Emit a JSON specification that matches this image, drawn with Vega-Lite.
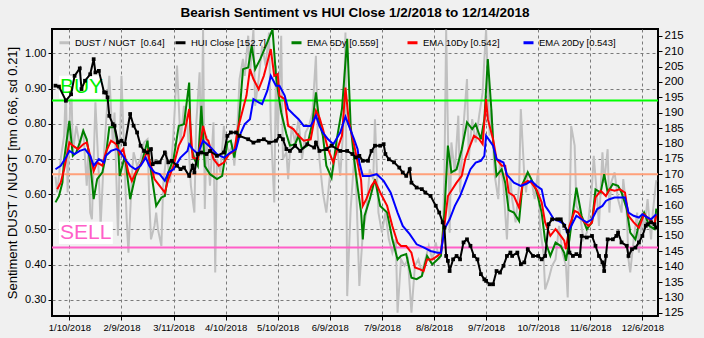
{
"$schema":"https://vega.github.io/schema/vega-lite/v6.json",
"width":606,"height":287,
"autosize":{"type":"none"},
"padding":{"left":52,"top":29,"right":46,"bottom":22},
"background":"#f0f0f0",
"config":{
 "font":"Liberation Sans",
 "view":{"stroke":"#000000","strokeWidth":2,"fill":"#f0f0f0"},
 "axis":{"labelFont":"Liberation Sans","labelColor":"#000000","tickColor":"#000000","domain":false,"gridColor":"#7a7a7a","gridDash":[3,3],"gridOpacity":1,"gridWidth":1,"tickSize":4,"titleFont":"Liberation Sans","titleColor":"#000000"}
},
"title":{"text":"Bearish Sentiment vs HUI Close 1/2/2018 to 12/14/2018","fontSize":13.5,"fontWeight":"bold","font":"Liberation Sans","color":"#000000","offset":10,"anchor":"middle"},
"datasets":{
"ratio":[
{"d":"2018-01-02","v":0.65},{"d":"2018-01-03","v":0.605},{"d":"2018-01-05","v":0.70},{"d":"2018-01-07","v":0.766},{"d":"2018-01-08","v":0.908},{"d":"2018-01-09","v":0.605},{"d":"2018-01-11","v":0.941},{"d":"2018-01-12","v":0.719},{"d":"2018-01-14","v":0.794},{"d":"2018-01-16","v":0.738},{"d":"2018-01-18","v":0.785},{"d":"2018-01-20","v":0.624},{"d":"2018-01-21","v":0.728},{"d":"2018-01-22","v":0.548},{"d":"2018-01-23","v":0.529},{"d":"2018-01-25","v":0.861},{"d":"2018-01-27","v":0.652},{"d":"2018-01-28","v":0.51},{"d":"2018-01-30","v":0.719},{"d":"2018-01-31","v":0.794},
{"d":"2018-02-02","v":0.936},{"d":"2018-02-04","v":0.747},{"d":"2018-02-05","v":0.832},{"d":"2018-02-07","v":0.482},{"d":"2018-02-09","v":0.936},{"d":"2018-02-10","v":0.794},{"d":"2018-02-12","v":0.529},{"d":"2018-02-13","v":0.434},{"d":"2018-02-15","v":0.652},{"d":"2018-02-16","v":0.719},{"d":"2018-02-18","v":0.681},{"d":"2018-02-20","v":0.70},{"d":"2018-02-22","v":0.747},{"d":"2018-02-24","v":0.756},{"d":"2018-02-25","v":0.586},{"d":"2018-02-26","v":0.472},{"d":"2018-02-28","v":0.51},
{"d":"2018-03-01","v":0.548},{"d":"2018-03-02","v":0.501},{"d":"2018-03-04","v":0.453},{"d":"2018-03-05","v":0.624},{"d":"2018-03-07","v":0.719},{"d":"2018-03-09","v":0.633},{"d":"2018-03-11","v":0.775},{"d":"2018-03-13","v":0.965},{"d":"2018-03-15","v":0.747},{"d":"2018-03-17","v":0.851},{"d":"2018-03-19","v":0.794},{"d":"2018-03-20","v":0.709},{"d":"2018-03-21","v":0.624},{"d":"2018-03-23","v":0.548},{"d":"2018-03-24","v":0.794},{"d":"2018-03-26","v":0.946},{"d":"2018-03-27","v":0.709},{"d":"2018-03-28","v":1.068},{"d":"2018-03-29","v":0.558},{"d":"2018-03-30","v":0.766},
{"d":"2018-04-01","v":0.624},{"d":"2018-04-03","v":0.804},{"d":"2018-04-04","v":0.378},{"d":"2018-04-05","v":0.70},{"d":"2018-04-07","v":0.662},{"d":"2018-04-09","v":0.794},{"d":"2018-04-10","v":0.747},{"d":"2018-04-12","v":0.719},{"d":"2018-04-14","v":0.738},{"d":"2018-04-15","v":0.681},{"d":"2018-04-17","v":0.813},{"d":"2018-04-18","v":0.927},{"d":"2018-04-20","v":0.984},{"d":"2018-04-21","v":0.936},{"d":"2018-04-23","v":1.05},{"d":"2018-04-24","v":0.936},{"d":"2018-04-26","v":1.068},{"d":"2018-04-27","v":0.851},{"d":"2018-04-29","v":0.927},
{"d":"2018-05-01","v":1.022},{"d":"2018-05-03","v":0.965},{"d":"2018-05-05","v":1.059},{"d":"2018-05-06","v":0.794},{"d":"2018-05-08","v":0.577},{"d":"2018-05-09","v":0.965},{"d":"2018-05-10","v":0.766},{"d":"2018-05-12","v":1.05},{"d":"2018-05-13","v":0.70},{"d":"2018-05-15","v":0.719},{"d":"2018-05-16","v":0.643},{"d":"2018-05-18","v":0.794},{"d":"2018-05-20","v":0.747},{"d":"2018-05-22","v":0.813},{"d":"2018-05-24","v":0.70},{"d":"2018-05-26","v":0.775},{"d":"2018-05-28","v":0.794},{"d":"2018-05-30","v":0.832},
{"d":"2018-06-01","v":0.993},{"d":"2018-06-02","v":0.775},{"d":"2018-06-03","v":0.70},{"d":"2018-06-05","v":0.605},{"d":"2018-06-07","v":0.548},{"d":"2018-06-09","v":0.652},{"d":"2018-06-11","v":0.671},{"d":"2018-06-13","v":0.747},{"d":"2018-06-15","v":0.652},{"d":"2018-06-17","v":0.804},{"d":"2018-06-18","v":1.059},{"d":"2018-06-19","v":0.311},{"d":"2018-06-21","v":0.558},{"d":"2018-06-23","v":0.70},{"d":"2018-06-24","v":0.652},{"d":"2018-06-26","v":0.34},{"d":"2018-06-28","v":0.491},{"d":"2018-06-30","v":0.548},
{"d":"2018-07-02","v":0.671},{"d":"2018-07-04","v":0.643},{"d":"2018-07-05","v":0.813},{"d":"2018-07-07","v":0.548},{"d":"2018-07-09","v":0.491},{"d":"2018-07-11","v":0.548},{"d":"2018-07-13","v":0.472},{"d":"2018-07-15","v":0.434},{"d":"2018-07-17","v":0.472},{"d":"2018-07-18","v":0.264},{"d":"2018-07-20","v":0.415},{"d":"2018-07-22","v":0.397},{"d":"2018-07-24","v":0.415},{"d":"2018-07-26","v":0.264},{"d":"2018-07-28","v":0.397},{"d":"2018-07-30","v":0.415},
{"d":"2018-08-01","v":0.378},{"d":"2018-08-03","v":0.415},{"d":"2018-08-05","v":0.453},{"d":"2018-08-07","v":0.415},{"d":"2018-08-09","v":0.463},{"d":"2018-08-11","v":0.415},{"d":"2018-08-13","v":0.472},{"d":"2018-08-14","v":0.652},{"d":"2018-08-15","v":1.068},{"d":"2018-08-17","v":0.491},{"d":"2018-08-18","v":0.747},{"d":"2018-08-20","v":0.662},{"d":"2018-08-22","v":0.823},{"d":"2018-08-23","v":0.605},{"d":"2018-08-25","v":0.794},{"d":"2018-08-27","v":0.927},{"d":"2018-08-28","v":0.70},{"d":"2018-08-30","v":0.813},
{"d":"2018-09-01","v":0.747},{"d":"2018-09-03","v":0.823},{"d":"2018-09-05","v":0.889},{"d":"2018-09-06","v":0.984},{"d":"2018-09-07","v":1.068},{"d":"2018-09-09","v":0.766},{"d":"2018-09-10","v":0.842},{"d":"2018-09-12","v":0.652},{"d":"2018-09-14","v":0.586},{"d":"2018-09-15","v":0.70},{"d":"2018-09-17","v":0.624},{"d":"2018-09-19","v":0.472},{"d":"2018-09-20","v":0.586},{"d":"2018-09-21","v":0.643},{"d":"2018-09-22","v":0.586},{"d":"2018-09-24","v":0.52},{"d":"2018-09-26","v":0.624},{"d":"2018-09-27","v":0.842},{"d":"2018-09-29","v":0.652},{"d":"2018-09-30","v":0.605},
{"d":"2018-10-01","v":0.662},{"d":"2018-10-03","v":0.643},{"d":"2018-10-05","v":0.586},{"d":"2018-10-07","v":0.671},{"d":"2018-10-08","v":0.51},{"d":"2018-10-10","v":0.434},{"d":"2018-10-11","v":0.33},{"d":"2018-10-13","v":0.359},{"d":"2018-10-15","v":0.397},{"d":"2018-10-17","v":0.415},{"d":"2018-10-19","v":0.51},{"d":"2018-10-21","v":0.434},{"d":"2018-10-23","v":0.397},{"d":"2018-10-24","v":0.307},{"d":"2018-10-25","v":0.51},{"d":"2018-10-26","v":0.794},{"d":"2018-10-28","v":0.738},{"d":"2018-10-29","v":0.567},{"d":"2018-10-31","v":0.548},
{"d":"2018-11-02","v":0.472},{"d":"2018-11-04","v":0.491},{"d":"2018-11-05","v":0.529},{"d":"2018-11-07","v":0.624},{"d":"2018-11-08","v":0.709},{"d":"2018-11-10","v":0.586},{"d":"2018-11-11","v":0.51},{"d":"2018-11-13","v":0.719},{"d":"2018-11-14","v":0.633},{"d":"2018-11-16","v":0.728},{"d":"2018-11-17","v":0.548},{"d":"2018-11-18","v":0.633},{"d":"2018-11-20","v":0.662},{"d":"2018-11-22","v":0.586},{"d":"2018-11-24","v":0.548},{"d":"2018-11-25","v":0.643},{"d":"2018-11-27","v":0.548},{"d":"2018-11-28","v":0.415},{"d":"2018-11-29","v":0.378},
{"d":"2018-12-01","v":0.472},{"d":"2018-12-03","v":0.548},{"d":"2018-12-04","v":0.434},{"d":"2018-12-06","v":0.548},{"d":"2018-12-07","v":0.491},{"d":"2018-12-09","v":0.586},{"d":"2018-12-11","v":0.472},{"d":"2018-12-12","v":0.548},{"d":"2018-12-14","v":0.64}
],
"ema5":[
{"d":"2018-01-02","v":0.577},{"d":"2018-01-04","v":0.595},{"d":"2018-01-06","v":0.633},{"d":"2018-01-07","v":0.70},{"d":"2018-01-10","v":0.808},{"d":"2018-01-12","v":0.709},{"d":"2018-01-14","v":0.719},{"d":"2018-01-16","v":0.747},{"d":"2018-01-18","v":0.78},{"d":"2018-01-20","v":0.756},{"d":"2018-01-22","v":0.69},{"d":"2018-01-24","v":0.586},{"d":"2018-01-26","v":0.643},{"d":"2018-01-29","v":0.662},{"d":"2018-01-31","v":0.709},
{"d":"2018-02-02","v":0.79},{"d":"2018-02-05","v":0.79},{"d":"2018-02-07","v":0.738},{"d":"2018-02-08","v":0.652},{"d":"2018-02-11","v":0.709},{"d":"2018-02-14","v":0.586},{"d":"2018-02-17","v":0.652},{"d":"2018-02-21","v":0.695},{"d":"2018-02-24","v":0.752},{"d":"2018-02-25","v":0.70},{"d":"2018-02-27","v":0.633},
{"d":"2018-03-01","v":0.567},{"d":"2018-03-04","v":0.591},{"d":"2018-03-06","v":0.595},{"d":"2018-03-08","v":0.662},{"d":"2018-03-11","v":0.70},{"d":"2018-03-14","v":0.794},{"d":"2018-03-17","v":0.799},{"d":"2018-03-20","v":0.917},{"d":"2018-03-21","v":0.738},{"d":"2018-03-23","v":0.70},{"d":"2018-03-25","v":0.681},{"d":"2018-03-27","v":0.851},{"d":"2018-03-29","v":0.68},
{"d":"2018-04-01","v":0.657},{"d":"2018-04-05","v":0.643},{"d":"2018-04-08","v":0.652},{"d":"2018-04-11","v":0.747},{"d":"2018-04-13","v":0.752},{"d":"2018-04-15","v":0.704},{"d":"2018-04-17","v":0.766},{"d":"2018-04-20","v":0.955},{"d":"2018-04-23","v":0.96},{"d":"2018-04-25","v":1.022},{"d":"2018-04-27","v":0.955},{"d":"2018-04-30","v":0.984},
{"d":"2018-05-04","v":1.031},{"d":"2018-05-07","v":1.068},{"d":"2018-05-09","v":0.936},{"d":"2018-05-10","v":0.898},{"d":"2018-05-12","v":0.832},{"d":"2018-05-15","v":0.771},{"d":"2018-05-17","v":0.738},{"d":"2018-05-20","v":0.742},{"d":"2018-05-22","v":0.766},{"d":"2018-05-24","v":0.728},{"d":"2018-05-27","v":0.738},{"d":"2018-05-30","v":0.804},
{"d":"2018-06-01","v":0.889},{"d":"2018-06-03","v":0.804},{"d":"2018-06-05","v":0.766},{"d":"2018-06-07","v":0.681},{"d":"2018-06-10","v":0.647},{"d":"2018-06-13","v":0.756},{"d":"2018-06-16","v":0.842},{"d":"2018-06-19","v":1.041},{"d":"2018-06-21","v":0.794},{"d":"2018-06-23","v":0.70},{"d":"2018-06-25","v":0.62},{"d":"2018-06-27","v":0.55},{"d":"2018-06-28","v":0.472},{"d":"2018-06-29","v":0.539},
{"d":"2018-07-02","v":0.586},{"d":"2018-07-05","v":0.643},{"d":"2018-07-08","v":0.567},{"d":"2018-07-12","v":0.548},{"d":"2018-07-15","v":0.472},{"d":"2018-07-18","v":0.415},{"d":"2018-07-20","v":0.425},{"d":"2018-07-23","v":0.43},{"d":"2018-07-26","v":0.363},{"d":"2018-07-29","v":0.359},
{"d":"2018-08-01","v":0.368},{"d":"2018-08-04","v":0.425},{"d":"2018-08-07","v":0.401},{"d":"2018-08-10","v":0.415},{"d":"2018-08-12","v":0.425},{"d":"2018-08-14","v":0.548},{"d":"2018-08-16","v":0.738},{"d":"2018-08-18","v":0.662},{"d":"2018-08-21","v":0.671},{"d":"2018-08-24","v":0.728},{"d":"2018-08-27","v":0.804},{"d":"2018-08-30","v":0.785},
{"d":"2018-09-01","v":0.799},{"d":"2018-09-04","v":0.756},{"d":"2018-09-06","v":0.813},{"d":"2018-09-08","v":0.984},{"d":"2018-09-10","v":0.842},{"d":"2018-09-11","v":0.756},{"d":"2018-09-13","v":0.652},{"d":"2018-09-16","v":0.671},{"d":"2018-09-18","v":0.633},{"d":"2018-09-20","v":0.555},{"d":"2018-09-23","v":0.548},{"d":"2018-09-26","v":0.524},{"d":"2018-09-28","v":0.629},
{"d":"2018-10-01","v":0.662},{"d":"2018-10-03","v":0.643},{"d":"2018-10-06","v":0.61},{"d":"2018-10-09","v":0.548},{"d":"2018-10-11","v":0.468},{"d":"2018-10-14","v":0.425},{"d":"2018-10-17","v":0.463},{"d":"2018-10-20","v":0.453},{"d":"2018-10-22","v":0.434},{"d":"2018-10-23","v":0.411},{"d":"2018-10-25","v":0.472},{"d":"2018-10-27","v":0.548},{"d":"2018-10-29","v":0.619},
{"d":"2018-11-01","v":0.539},{"d":"2018-11-04","v":0.501},{"d":"2018-11-07","v":0.52},{"d":"2018-11-09","v":0.614},{"d":"2018-11-12","v":0.605},{"d":"2018-11-14","v":0.657},{"d":"2018-11-16","v":0.605},{"d":"2018-11-19","v":0.629},{"d":"2018-11-22","v":0.624},{"d":"2018-11-24","v":0.605},{"d":"2018-11-27","v":0.558},{"d":"2018-11-29","v":0.491},
{"d":"2018-12-02","v":0.472},{"d":"2018-12-04","v":0.515},{"d":"2018-12-07","v":0.548},{"d":"2018-12-10","v":0.51},{"d":"2018-12-13","v":0.501},{"d":"2018-12-14","v":0.559}
],
"ema10":[
{"d":"2018-01-03","v":0.614},{"d":"2018-01-05","v":0.633},{"d":"2018-01-07","v":0.671},{"d":"2018-01-10","v":0.747},{"d":"2018-01-12","v":0.738},{"d":"2018-01-15","v":0.728},{"d":"2018-01-18","v":0.742},{"d":"2018-01-20","v":0.747},{"d":"2018-01-22","v":0.709},{"d":"2018-01-24","v":0.666},{"d":"2018-01-26","v":0.69},{"d":"2018-01-29","v":0.681},{"d":"2018-01-31","v":0.719},
{"d":"2018-02-03","v":0.752},{"d":"2018-02-06","v":0.742},{"d":"2018-02-08","v":0.714},{"d":"2018-02-10","v":0.728},{"d":"2018-02-13","v":0.662},{"d":"2018-02-15","v":0.638},{"d":"2018-02-18","v":0.671},{"d":"2018-02-21","v":0.69},{"d":"2018-02-24","v":0.723},{"d":"2018-02-25","v":0.70},{"d":"2018-02-28","v":0.643},
{"d":"2018-03-03","v":0.624},{"d":"2018-03-06","v":0.605},{"d":"2018-03-08","v":0.643},{"d":"2018-03-11","v":0.681},{"d":"2018-03-14","v":0.738},{"d":"2018-03-17","v":0.766},{"d":"2018-03-20","v":0.842},{"d":"2018-03-22","v":0.704},{"d":"2018-03-25","v":0.70},{"d":"2018-03-28","v":0.794},{"d":"2018-03-30","v":0.756},{"d":"2018-03-31","v":0.752},
{"d":"2018-04-03","v":0.70},{"d":"2018-04-06","v":0.681},{"d":"2018-04-09","v":0.69},{"d":"2018-04-12","v":0.714},{"d":"2018-04-15","v":0.723},{"d":"2018-04-17","v":0.785},{"d":"2018-04-20","v":0.842},{"d":"2018-04-22","v":0.88},{"d":"2018-04-24","v":0.955},{"d":"2018-04-26","v":0.927},{"d":"2018-04-29","v":0.898},
{"d":"2018-05-02","v":0.936},{"d":"2018-05-04","v":0.974},{"d":"2018-05-06","v":1.012},{"d":"2018-05-08","v":0.936},{"d":"2018-05-10","v":0.941},{"d":"2018-05-11","v":0.88},{"d":"2018-05-14","v":0.87},{"d":"2018-05-16","v":0.794},{"d":"2018-05-19","v":0.785},{"d":"2018-05-22","v":0.766},{"d":"2018-05-25","v":0.752},{"d":"2018-05-29","v":0.756},
{"d":"2018-06-01","v":0.837},{"d":"2018-06-03","v":0.818},{"d":"2018-06-05","v":0.785},{"d":"2018-06-08","v":0.728},{"d":"2018-06-11","v":0.69},{"d":"2018-06-14","v":0.738},{"d":"2018-06-16","v":0.766},{"d":"2018-06-18","v":0.903},{"d":"2018-06-20","v":0.804},{"d":"2018-06-23","v":0.74},{"d":"2018-06-25","v":0.69},{"d":"2018-06-27","v":0.64},{"d":"2018-06-28","v":0.567},{"d":"2018-06-30","v":0.586},
{"d":"2018-07-03","v":0.624},{"d":"2018-07-05","v":0.638},{"d":"2018-07-08","v":0.605},{"d":"2018-07-12","v":0.567},{"d":"2018-07-15","v":0.51},{"d":"2018-07-18","v":0.463},{"d":"2018-07-20","v":0.453},{"d":"2018-07-23","v":0.453},{"d":"2018-07-26","v":0.434},{"d":"2018-07-28","v":0.392},{"d":"2018-07-31","v":0.387},
{"d":"2018-08-02","v":0.382},{"d":"2018-08-04","v":0.415},{"d":"2018-08-07","v":0.415},{"d":"2018-08-10","v":0.425},{"d":"2018-08-12","v":0.434},{"d":"2018-08-14","v":0.51},{"d":"2018-08-16","v":0.595},{"d":"2018-08-18","v":0.61},{"d":"2018-08-21","v":0.633},{"d":"2018-08-24","v":0.652},{"d":"2018-08-26","v":0.70},{"d":"2018-08-28","v":0.728},{"d":"2018-08-31","v":0.766},
{"d":"2018-09-03","v":0.756},{"d":"2018-09-05","v":0.742},{"d":"2018-09-07","v":0.87},{"d":"2018-09-08","v":0.813},{"d":"2018-09-11","v":0.756},{"d":"2018-09-13","v":0.70},{"d":"2018-09-16","v":0.681},{"d":"2018-09-18","v":0.681},{"d":"2018-09-20","v":0.605},{"d":"2018-09-23","v":0.595},{"d":"2018-09-26","v":0.562},{"d":"2018-09-28","v":0.629},
{"d":"2018-10-01","v":0.638},{"d":"2018-10-03","v":0.633},{"d":"2018-10-06","v":0.614},{"d":"2018-10-09","v":0.577},{"d":"2018-10-11","v":0.52},{"d":"2018-10-14","v":0.482},{"d":"2018-10-17","v":0.501},{"d":"2018-10-20","v":0.482},{"d":"2018-10-22","v":0.468},{"d":"2018-10-23","v":0.444},{"d":"2018-10-25","v":0.51},{"d":"2018-10-28","v":0.553},{"d":"2018-10-30","v":0.548},
{"d":"2018-11-02","v":0.524},{"d":"2018-11-05","v":0.51},{"d":"2018-11-07","v":0.52},{"d":"2018-11-09","v":0.591},{"d":"2018-11-12","v":0.61},{"d":"2018-11-15","v":0.595},{"d":"2018-11-17","v":0.614},{"d":"2018-11-20","v":0.61},{"d":"2018-11-23","v":0.614},{"d":"2018-11-26","v":0.605},{"d":"2018-11-28","v":0.539},
{"d":"2018-12-01","v":0.52},{"d":"2018-12-04","v":0.505},{"d":"2018-12-07","v":0.543},{"d":"2018-12-10","v":0.529},{"d":"2018-12-13","v":0.515},{"d":"2018-12-14","v":0.542}
],
"ema20":[
{"d":"2018-01-02","v":0.671},{"d":"2018-01-05","v":0.681},{"d":"2018-01-08","v":0.704},{"d":"2018-01-10","v":0.723},{"d":"2018-01-13","v":0.714},{"d":"2018-01-16","v":0.723},{"d":"2018-01-19","v":0.728},{"d":"2018-01-22","v":0.709},{"d":"2018-01-24","v":0.681},{"d":"2018-01-27","v":0.70},{"d":"2018-01-30","v":0.69},{"d":"2018-01-31","v":0.709},
{"d":"2018-02-03","v":0.723},{"d":"2018-02-06","v":0.728},{"d":"2018-02-08","v":0.723},{"d":"2018-02-11","v":0.70},{"d":"2018-02-14","v":0.681},{"d":"2018-02-17","v":0.671},{"d":"2018-02-20","v":0.681},{"d":"2018-02-23","v":0.704},{"d":"2018-02-25","v":0.681},{"d":"2018-02-28","v":0.662},
{"d":"2018-03-03","v":0.657},{"d":"2018-03-06","v":0.638},{"d":"2018-03-08","v":0.662},{"d":"2018-03-11","v":0.671},{"d":"2018-03-15","v":0.704},{"d":"2018-03-19","v":0.723},{"d":"2018-03-20","v":0.742},{"d":"2018-03-22","v":0.728},{"d":"2018-03-25","v":0.714},{"d":"2018-03-28","v":0.752},
{"d":"2018-04-01","v":0.735},{"d":"2018-04-05","v":0.714},{"d":"2018-04-09","v":0.704},{"d":"2018-04-13","v":0.719},{"d":"2018-04-16","v":0.728},{"d":"2018-04-18","v":0.766},{"d":"2018-04-21","v":0.799},{"d":"2018-04-24","v":0.813},{"d":"2018-04-26","v":0.87},{"d":"2018-04-29","v":0.861},
{"d":"2018-05-01","v":0.856},{"d":"2018-05-04","v":0.894},{"d":"2018-05-06","v":0.936},{"d":"2018-05-09","v":0.908},{"d":"2018-05-11","v":0.908},{"d":"2018-05-14","v":0.88},{"d":"2018-05-16","v":0.842},{"d":"2018-05-19","v":0.827},{"d":"2018-05-22","v":0.813},{"d":"2018-05-25","v":0.794},{"d":"2018-05-29","v":0.794},
{"d":"2018-06-01","v":0.823},{"d":"2018-06-03","v":0.794},{"d":"2018-06-05","v":0.775},{"d":"2018-06-08","v":0.756},{"d":"2018-06-11","v":0.742},{"d":"2018-06-15","v":0.775},{"d":"2018-06-18","v":0.82},{"d":"2018-06-20","v":0.794},{"d":"2018-06-23","v":0.756},{"d":"2018-06-25","v":0.728},{"d":"2018-06-26","v":0.69},{"d":"2018-06-28","v":0.652},
{"d":"2018-07-02","v":0.652},{"d":"2018-07-06","v":0.657},{"d":"2018-07-10","v":0.638},{"d":"2018-07-14","v":0.605},{"d":"2018-07-18","v":0.548},{"d":"2018-07-21","v":0.51},{"d":"2018-07-25","v":0.487},{"d":"2018-07-29","v":0.458},
{"d":"2018-08-02","v":0.449},{"d":"2018-08-06","v":0.439},{"d":"2018-08-10","v":0.434},{"d":"2018-08-12","v":0.434},{"d":"2018-08-14","v":0.501},{"d":"2018-08-17","v":0.529},{"d":"2018-08-20","v":0.567},{"d":"2018-08-23","v":0.595},{"d":"2018-08-26","v":0.633},{"d":"2018-08-29","v":0.671},
{"d":"2018-09-01","v":0.69},{"d":"2018-09-04","v":0.695},{"d":"2018-09-06","v":0.709},{"d":"2018-09-07","v":0.766},{"d":"2018-09-09","v":0.752},{"d":"2018-09-11","v":0.738},{"d":"2018-09-13","v":0.70},{"d":"2018-09-17","v":0.69},{"d":"2018-09-19","v":0.655},{"d":"2018-09-23","v":0.633},{"d":"2018-09-27","v":0.624},{"d":"2018-09-30","v":0.629},
{"d":"2018-10-03","v":0.638},{"d":"2018-10-06","v":0.624},{"d":"2018-10-09","v":0.614},{"d":"2018-10-11","v":0.567},{"d":"2018-10-13","v":0.553},{"d":"2018-10-16","v":0.529},{"d":"2018-10-19","v":0.524},{"d":"2018-10-22","v":0.515},{"d":"2018-10-24","v":0.487},{"d":"2018-10-26","v":0.51},{"d":"2018-10-29","v":0.539},
{"d":"2018-11-01","v":0.529},{"d":"2018-11-04","v":0.52},{"d":"2018-11-07","v":0.529},{"d":"2018-11-10","v":0.558},{"d":"2018-11-13","v":0.567},{"d":"2018-11-15","v":0.581},{"d":"2018-11-17","v":0.586},{"d":"2018-11-20","v":0.591},{"d":"2018-11-23","v":0.591},{"d":"2018-11-26","v":0.591},{"d":"2018-11-28","v":0.548},
{"d":"2018-12-01","v":0.539},{"d":"2018-12-04","v":0.534},{"d":"2018-12-06","v":0.543},{"d":"2018-12-09","v":0.534},{"d":"2018-12-11","v":0.529},{"d":"2018-12-14","v":0.543}
],
"hui":[
{"d":"2018-01-02","h":198.8},{"d":"2018-01-04","h":198.5},{"d":"2018-01-08","h":193.9},{"d":"2018-01-11","h":196.0},{"d":"2018-01-13","h":202.0},{"d":"2018-01-16","h":204.4},{"d":"2018-01-17","h":197.7},{"d":"2018-01-19","h":200.4},{"d":"2018-01-22","h":202.5},{"d":"2018-01-24","h":207.4},{"d":"2018-01-25","h":203.1},{"d":"2018-01-27","h":203.6},{"d":"2018-01-30","h":196.6},{"d":"2018-01-31","h":196.6},
{"d":"2018-02-01","h":195.0},{"d":"2018-02-02","h":189.0},{"d":"2018-02-04","h":186.3},{"d":"2018-02-05","h":185.8},{"d":"2018-02-07","h":180.4},{"d":"2018-02-09","h":180.9},{"d":"2018-02-11","h":179.8},{"d":"2018-02-14","h":189.6},{"d":"2018-02-16","h":185.8},{"d":"2018-02-18","h":183.6},{"d":"2018-02-20","h":179.3},{"d":"2018-02-22","h":177.6},{"d":"2018-02-24","h":177.1},{"d":"2018-02-26","h":178.2},{"d":"2018-02-27","h":173.3},
{"d":"2018-03-01","h":173.9},{"d":"2018-03-03","h":173.9},{"d":"2018-03-06","h":177.1},{"d":"2018-03-08","h":173.9},{"d":"2018-03-10","h":174.4},{"d":"2018-03-13","h":172.8},{"d":"2018-03-15","h":171.7},{"d":"2018-03-17","h":172.2},{"d":"2018-03-20","h":169.5},{"d":"2018-03-22","h":172.8},{"d":"2018-03-23","h":170.6},{"d":"2018-03-25","h":176.6},{"d":"2018-03-27","h":177.1},{"d":"2018-03-30","h":176.6},
{"d":"2018-04-01","h":177.6},{"d":"2018-04-05","h":176.0},{"d":"2018-04-09","h":177.1},{"d":"2018-04-11","h":182.5},{"d":"2018-04-13","h":183.6},{"d":"2018-04-16","h":183.6},{"d":"2018-04-18","h":182.5},{"d":"2018-04-23","h":181.4},{"d":"2018-04-26","h":180.3},{"d":"2018-04-29","h":180.9},
{"d":"2018-05-02","h":181.4},{"d":"2018-05-05","h":180.3},{"d":"2018-05-09","h":180.9},{"d":"2018-05-11","h":182.5},{"d":"2018-05-13","h":181.4},{"d":"2018-05-15","h":178.2},{"d":"2018-05-17","h":177.6},{"d":"2018-05-20","h":179.3},{"d":"2018-05-23","h":177.6},{"d":"2018-05-27","h":179.8},{"d":"2018-05-31","h":178.7},
{"d":"2018-06-01","h":180.3},{"d":"2018-06-03","h":177.6},{"d":"2018-06-07","h":178.2},{"d":"2018-06-10","h":179.3},{"d":"2018-06-15","h":177.6},{"d":"2018-06-19","h":177.6},{"d":"2018-06-22","h":176.6},{"d":"2018-06-24","h":175.5},{"d":"2018-06-26","h":176.0},{"d":"2018-06-28","h":174.4},
{"d":"2018-07-01","h":174.4},{"d":"2018-07-03","h":177.6},{"d":"2018-07-05","h":179.3},{"d":"2018-07-08","h":179.3},{"d":"2018-07-10","h":179.8},{"d":"2018-07-11","h":176.6},{"d":"2018-07-13","h":174.9},{"d":"2018-07-16","h":173.9},{"d":"2018-07-19","h":172.2},{"d":"2018-07-21","h":170.6},{"d":"2018-07-23","h":169.5},{"d":"2018-07-25","h":171.7},{"d":"2018-07-26","h":167.3},{"d":"2018-07-29","h":165.7},
{"d":"2018-08-01","h":165.2},{"d":"2018-08-03","h":164.1},{"d":"2018-08-06","h":163.0},{"d":"2018-08-09","h":159.8},{"d":"2018-08-11","h":157.6},{"d":"2018-08-13","h":154.4},{"d":"2018-08-14","h":152.7},{"d":"2018-08-15","h":143.5},{"d":"2018-08-16","h":141.9},{"d":"2018-08-17","h":138.6},{"d":"2018-08-19","h":142.4},{"d":"2018-08-21","h":143.5},{"d":"2018-08-23","h":142.4},{"d":"2018-08-25","h":147.9},{"d":"2018-08-27","h":148.9},{"d":"2018-08-29","h":146.8},{"d":"2018-08-31","h":143.5},
{"d":"2018-09-02","h":142.4},{"d":"2018-09-04","h":137.6},{"d":"2018-09-06","h":135.9},{"d":"2018-09-07","h":135.4},{"d":"2018-09-09","h":134.3},{"d":"2018-09-11","h":134.3},{"d":"2018-09-13","h":138.6},{"d":"2018-09-15","h":138.1},{"d":"2018-09-17","h":140.3},{"d":"2018-09-19","h":143.5},{"d":"2018-09-21","h":144.6},{"d":"2018-09-22","h":143.5},{"d":"2018-09-25","h":144.6},{"d":"2018-09-27","h":140.8},{"d":"2018-09-29","h":141.4},
{"d":"2018-10-01","h":145.7},{"d":"2018-10-04","h":143.5},{"d":"2018-10-07","h":143.5},{"d":"2018-10-09","h":142.4},{"d":"2018-10-11","h":143.5},{"d":"2018-10-13","h":153.8},{"d":"2018-10-15","h":155.4},{"d":"2018-10-18","h":155.4},{"d":"2018-10-20","h":155.4},{"d":"2018-10-22","h":153.3},{"d":"2018-10-24","h":151.6},{"d":"2018-10-25","h":144.6},{"d":"2018-10-27","h":143.5},{"d":"2018-10-29","h":144.1},{"d":"2018-10-31","h":143.5},
{"d":"2018-11-01","h":150.0},{"d":"2018-11-04","h":149.5},{"d":"2018-11-07","h":150.0},{"d":"2018-11-09","h":146.8},{"d":"2018-11-11","h":143.5},{"d":"2018-11-13","h":141.4},{"d":"2018-11-14","h":138.6},{"d":"2018-11-15","h":143.5},{"d":"2018-11-16","h":148.9},{"d":"2018-11-19","h":148.9},{"d":"2018-11-21","h":150.0},{"d":"2018-11-22","h":151.1},{"d":"2018-11-24","h":147.9},{"d":"2018-11-27","h":146.8},{"d":"2018-11-28","h":143.5},{"d":"2018-11-30","h":145.7},
{"d":"2018-12-02","h":146.2},{"d":"2018-12-04","h":147.9},{"d":"2018-12-06","h":150.0},{"d":"2018-12-08","h":153.3},{"d":"2018-12-09","h":153.8},{"d":"2018-12-11","h":154.4},{"d":"2018-12-13","h":153.8},{"d":"2018-12-14","h":152.7}
],
"levels":[
{"k":"buy","d":"2017-12-31","v":0.866},{"k":"buy","d":"2018-12-15","v":0.866},
{"k":"mean","d":"2017-12-31","v":0.657},{"k":"mean","d":"2018-12-15","v":0.657},
{"k":"sell","d":"2017-12-31","v":0.449},{"k":"sell","d":"2018-12-15","v":0.449}
],
"boxes":[
{"b":"BUY","d":"2018-01-04","top":0.936,"bot":0.872},{"b":"BUY","d":"2018-01-29","top":0.936,"bot":0.872},
{"b":"SELL","d":"2018-01-04","top":0.522,"bot":0.459},{"b":"SELL","d":"2018-02-04","top":0.522,"bot":0.459}
],
"notes":[
{"t":"BUY","d":"2018-01-04","vm":0.903},
{"t":"SELL","d":"2018-01-04","vm":0.49}
]
},
"encoding":{"x":{"field":"d","type":"temporal","scale":{"type":"utc","domain":[{"year":2017,"month":12,"date":31,"utc":true},{"year":2018,"month":12,"date":15,"utc":true}]},
 "axis":{"title":null,"format":"%-m/%-d/%Y","labelFontSize":9.5,"labelPadding":2,"grid":true,"labelOverlap":false,"labelFlush":false,
 "values":[{"year":2018,"month":1,"date":10,"utc":true},{"year":2018,"month":2,"date":9,"utc":true},{"year":2018,"month":3,"date":11,"utc":true},{"year":2018,"month":4,"date":10,"utc":true},{"year":2018,"month":5,"date":10,"utc":true},{"year":2018,"month":6,"date":9,"utc":true},{"year":2018,"month":7,"date":9,"utc":true},{"year":2018,"month":8,"date":8,"utc":true},{"year":2018,"month":9,"date":7,"utc":true},{"year":2018,"month":10,"date":7,"utc":true},{"year":2018,"month":11,"date":6,"utc":true},{"year":2018,"month":12,"date":6,"utc":true}]}}},
"layer":[
 {"layer":[
  {"data":{"name":"ratio"},"mark":{"type":"line","strokeWidth":2,"clip":true},
   "encoding":{"y":{"field":"v","type":"quantitative","scale":{"domain":[0.2545,1.069],"nice":false,"zero":false},
     "axis":{"values":[0.3,0.35,0.4,0.45,0.5,0.55,0.6,0.65,0.7,0.75,0.8,0.85,0.9,0.95,1,1.05],"format":".2f","grid":true,"labelFontSize":11,"labelPadding":2,
      "title":"Sentiment DUST / NUGT [mn 0.66, sd 0.21]","titleFontSize":13,"titleFontWeight":"normal","titleX":-40,"titleY":143.5,"titleAngle":-90,"titleAlign":"center","titleBaseline":"middle"}},
    "color":{"datum":"DUST / NUGT\u00a0 [0.64]","type":"nominal",
     "scale":{"domain":["DUST / NUGT\u00a0 [0.64]","HUI Close [152.7]","EMA 5Dy [0.559]","EMA 10Dy [0.542]","EMA 20Dy [0.543]"],"range":["#c0c0c0","#000000","#008000","#ff0000","#0000ff"]},
     "legend":{"title":null,"orient":"none","legendX":6,"legendY":7,"direction":"horizontal","columns":5,"gridAlign":"all","columnPadding":4,"symbolType":"stroke","symbolStrokeWidth":3,"symbolSize":100,"labelFontSize":9.5,"labelFont":"Liberation Sans","labelColor":"#000000","labelLimit":0,"padding":0}}}},
  {"data":{"name":"levels"},"transform":[{"filter":"datum.k == 'buy'"}],"mark":{"type":"line","color":"#00ff00","strokeWidth":2},
   "encoding":{"y":{"field":"v","type":"quantitative","scale":{"domain":[0.2545,1.069],"nice":false,"zero":false}}}},
  {"data":{"name":"levels"},"transform":[{"filter":"datum.k == 'mean'"}],"mark":{"type":"line","color":"#ffa07a","strokeWidth":2},
   "encoding":{"y":{"field":"v","type":"quantitative","scale":{"domain":[0.2545,1.069],"nice":false,"zero":false}}}},
  {"data":{"name":"levels"},"transform":[{"filter":"datum.k == 'sell'"}],"mark":{"type":"line","color":"#ff5fc8","strokeWidth":2},
   "encoding":{"y":{"field":"v","type":"quantitative","scale":{"domain":[0.2545,1.069],"nice":false,"zero":false}}}},
  {"data":{"name":"boxes"},"mark":{"type":"area","color":"#ffffff","opacity":1},
   "encoding":{"y":{"field":"top","type":"quantitative","scale":{"domain":[0.2545,1.069],"nice":false,"zero":false}},"y2":{"field":"bot"},"detail":{"field":"b","type":"nominal"}}},
  {"data":{"name":"notes"},"mark":{"type":"text","align":"left","baseline":"middle","fontSize":21,"font":"Liberation Sans","dx":1},
   "encoding":{"y":{"field":"vm","type":"quantitative","scale":{"domain":[0.2545,1.069],"nice":false,"zero":false}},"text":{"field":"t"},
    "color":{"condition":{"test":"datum.t == 'BUY'","value":"#00f000"},"value":"#ff5fc8"}}},
  {"data":{"name":"ema5"},"mark":{"type":"line","strokeWidth":2,"clip":true},
   "encoding":{"y":{"field":"v","type":"quantitative","scale":{"domain":[0.2545,1.069],"nice":false,"zero":false}},"color":{"datum":"EMA 5Dy [0.559]","type":"nominal"}}},
  {"data":{"name":"ema10"},"mark":{"type":"line","strokeWidth":2,"clip":true},
   "encoding":{"y":{"field":"v","type":"quantitative","scale":{"domain":[0.2545,1.069],"nice":false,"zero":false}},"color":{"datum":"EMA 10Dy [0.542]","type":"nominal"}}},
  {"data":{"name":"ema20"},"mark":{"type":"line","strokeWidth":2,"clip":true},
   "encoding":{"y":{"field":"v","type":"quantitative","scale":{"domain":[0.2545,1.069],"nice":false,"zero":false}},"color":{"datum":"EMA 20Dy [0.543]","type":"nominal"}}}
 ]},
 {"data":{"name":"hui"},"mark":{"type":"line","strokeWidth":2,"point":{"shape":"square","size":14,"filled":true}},
  "encoding":{"y":{"field":"h","type":"quantitative","scale":{"domain":[124,217.2],"nice":false,"zero":false},
    "axis":{"orient":"right","values":[125,130,135,140,145,150,155,160,165,170,175,180,185,190,195,200,205,210,215],"grid":false,"title":null,"labelFontSize":11.5,"labelPadding":2}},
   "color":{"datum":"HUI Close [152.7]","type":"nominal"}}}
],
"resolve":{"scale":{"y":"independent"}}
}
